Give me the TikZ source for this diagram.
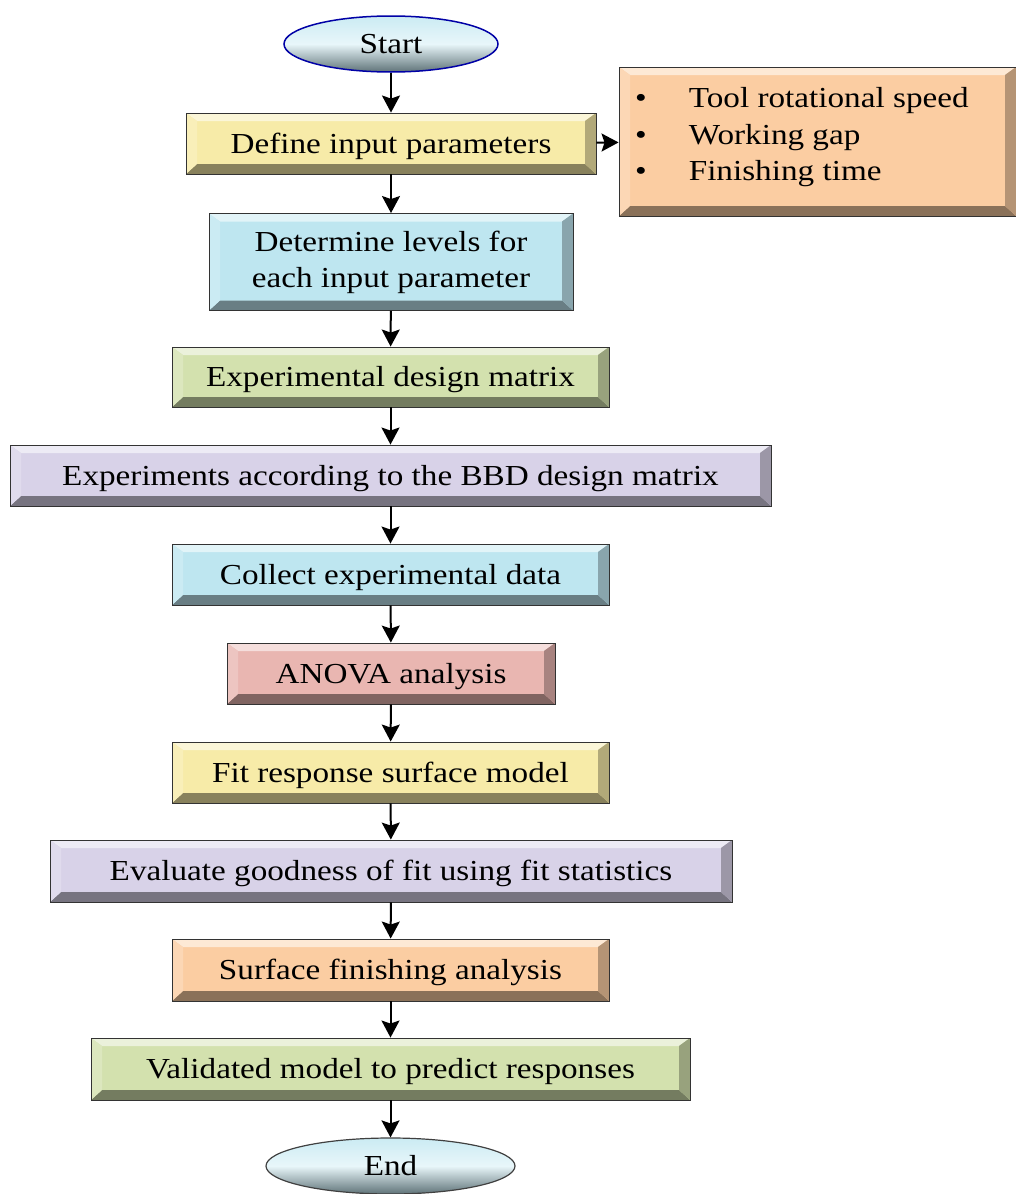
\documentclass[tikz,border=0pt]{standalone}
\usepackage{fontspec}
\setmainfont{Liberation Serif}[FakeStretch=1.145]
\usetikzlibrary{arrows.meta,shapes.geometric}
\definecolor{cyel}{HTML}{F7EBA8}
\definecolor{cblu}{HTML}{BEE6F0}
\definecolor{cgrn}{HTML}{D3E1AE}
\definecolor{cpur}{HTML}{D8D2E8}
\definecolor{cpnk}{HTML}{E9B6B1}
\definecolor{corg}{HTML}{FBCDA2}
\tikzset{
  bevel/.style={draw=black!80, line width=0.9pt, fill=#1, inner sep=0pt,
    font=\fontsize{29}{36}\selectfont, align=center,
    path picture={
      \fill[#1!45!white] (path picture bounding box.north west) -- (path picture bounding box.north east)
        -- ([xshift=-11pt,yshift=-8pt]path picture bounding box.north east) -- ([xshift=11pt,yshift=-8pt]path picture bounding box.north west) -- cycle;
      \fill[#1!55!black] (path picture bounding box.south west) -- (path picture bounding box.south east)
        -- ([xshift=-11pt,yshift=10pt]path picture bounding box.south east) -- ([xshift=11pt,yshift=10pt]path picture bounding box.south west) -- cycle;
      \fill[#1!80!white] (path picture bounding box.north west) -- ([xshift=11pt,yshift=-8pt]path picture bounding box.north west)
        -- ([xshift=11pt,yshift=10pt]path picture bounding box.south west) -- (path picture bounding box.south west) -- cycle;
      \fill[#1!72!black] (path picture bounding box.north east) -- ([xshift=-11pt,yshift=-8pt]path picture bounding box.north east)
        -- ([xshift=-11pt,yshift=10pt]path picture bounding box.south east) -- (path picture bounding box.south east) -- cycle;
    }},
  oneline/.style={text height=25pt, text depth=6pt},
  term/.style={ellipse, inner sep=0pt, font=\fontsize{29}{36}\selectfont, text height=25pt, text depth=6pt,
    top color=cblu!80!white, bottom color=cblu!50!black, middle color=cblu!35!white},
  arr/.style={line width=2pt, -{Stealth[length=17pt,width=18pt,inset=3pt]}}
}
\begin{document}
\begin{tikzpicture}[x=1pt,y=-1pt]
\useasboundingbox (0,0) rectangle (1016,1194);
\node[term, draw=blue!65!black, line width=1.5pt, minimum width=214pt, minimum height=56pt] (start) at (391,44) {Start};
\node[bevel=cyel, oneline, minimum width=410pt, minimum height=61pt] (define) at (391,143.5) {Define input parameters};
\node[bevel=corg, minimum width=397pt, minimum height=149pt] (params) at (817.5,141.5) {};
\node[anchor=west, inner sep=0pt, font=\fontsize{29}{36.5}\selectfont] (plist) at (635,137)
  {\begin{tabular}{@{}l@{\hspace{42pt}}l@{}}\textbullet & Tool rotational speed\\ \textbullet & Working gap\\ \textbullet & Finishing time\end{tabular}};
\node[bevel=cblu, minimum width=364pt, minimum height=97pt] (levels) at (391,262) {Determine levels for\\each input parameter};
\node[bevel=cgrn, oneline, minimum width=437pt, minimum height=60pt] (matrix) at (390.5,377) {Experimental design matrix};
\node[bevel=cpur, oneline, minimum width=761pt, minimum height=61pt] (exper) at (390.5,475.5) {Experiments according to the BBD design matrix};
\node[bevel=cblu, oneline, minimum width=437pt, minimum height=61pt] (collect) at (390.5,574.5) {Collect experimental data};
\node[bevel=cpnk, oneline, minimum width=328pt, minimum height=61pt] (anova) at (391,673.5) {ANOVA analysis};
\node[bevel=cyel, oneline, minimum width=437pt, minimum height=61pt] (fit) at (390.5,772.5) {Fit response surface model};
\node[bevel=cpur, oneline, minimum width=682pt, minimum height=62pt] (eval) at (391,871) {Evaluate goodness of fit using fit statistics};
\node[bevel=corg, oneline, minimum width=437pt, minimum height=62pt] (surf) at (390.5,970) {Surface finishing analysis};
\node[bevel=cgrn, oneline, minimum width=599pt, minimum height=62pt] (valid) at (390.5,1069) {Validated model to predict responses};
\node[term, draw=black!75, line width=1.2pt, minimum width=249pt, minimum height=56pt] (end) at (390.5,1166) {End};
\draw[arr] (start) -- (define);
\draw[arr] (define) -- (params);
\draw[arr] (define) -- (levels);
\draw[arr] (levels) -- (matrix);
\draw[arr] (matrix) -- (exper);
\draw[arr] (exper) -- (collect);
\draw[arr] (collect) -- (anova);
\draw[arr] (anova) -- (fit);
\draw[arr] (fit) -- (eval);
\draw[arr] (eval) -- (surf);
\draw[arr] (surf) -- (valid);
\draw[arr] (valid) -- (end);
\end{tikzpicture}
\end{document}
